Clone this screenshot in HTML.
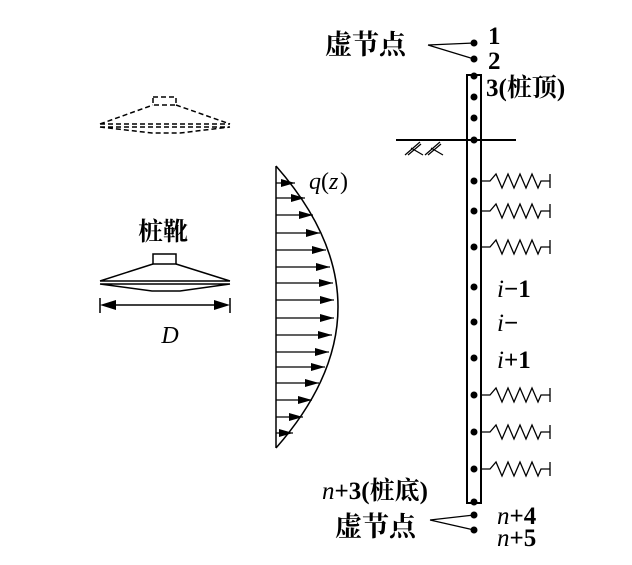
<!DOCTYPE html>
<html><head><meta charset="utf-8"><style>body{margin:0;background:#fff}svg{display:block}</style></head><body>
<svg width="632" height="565" viewBox="0 0 632 565" xmlns="http://www.w3.org/2000/svg" font-family="Liberation Serif, Noto Serif CJK SC, serif">
<defs><marker id="ah" markerWidth="14" markerHeight="8" refX="14" refY="4" orient="auto" markerUnits="userSpaceOnUse"><path d="M0,0 L14,4 L0,8 Z" fill="#000"/></marker></defs>
<g fill="none" stroke="#000" stroke-width="1.5">
<g stroke-dasharray="5,3">
<rect x="153" y="97" width="23" height="8"/>
<path d="M100,124 L153,105 M176,105 L230,124 M100,124 L230,124 M100,127 L230,127 M100,127 L152,133 L180,133 L230,127"/>
</g>
<rect x="153" y="254" width="23" height="10"/>
<path d="M100,281 L153,264 M176,264 L230,281 M100,281 L230,281 M100,284 L230,284 M100,284 L152,291 L180,291 L230,284"/>
<path d="M100,298 V313 M230,298 V313"/>
</g>
<path d="M100,305 L116,300 L116,310 Z M230,305 L214,300 L214,310 Z" fill="#000"/>
<line x1="110" y1="305" x2="220" y2="305" stroke="#000" stroke-width="1.5"/>
<text x="170" y="343" font-size="24" font-style="italic" text-anchor="middle">D</text>
<text x="163" y="240" font-size="25" font-weight="bold" text-anchor="middle">桩靴</text>
<path d="M276,166 L276,448 M276,166 Q400,307 276,448" fill="none" stroke="#000" stroke-width="1.5"/>
<g stroke="#000" stroke-width="1.2" marker-end="url(#ah)">
<line x1="276" y1="183" x2="295" y2="183"/>
<line x1="276" y1="198" x2="305" y2="198"/>
<line x1="276" y1="215" x2="313" y2="215"/>
<line x1="276" y1="233" x2="320" y2="233"/>
<line x1="276" y1="250" x2="326" y2="250"/>
<line x1="276" y1="267" x2="330" y2="267"/>
<line x1="276" y1="283" x2="333" y2="283"/>
<line x1="276" y1="300" x2="334" y2="300"/>
<line x1="276" y1="318" x2="334" y2="318"/>
<line x1="276" y1="335" x2="332" y2="335"/>
<line x1="276" y1="352" x2="329" y2="352"/>
<line x1="276" y1="367" x2="325" y2="367"/>
<line x1="276" y1="383" x2="319" y2="383"/>
<line x1="276" y1="400" x2="312" y2="400"/>
<line x1="276" y1="417" x2="303" y2="417"/>
<line x1="276" y1="433" x2="293" y2="433"/>
</g>
<text x="309" y="189" font-size="24" font-style="italic">q</text><text x="321" y="189" font-size="24">(</text><text x="329" y="189" font-size="24" font-style="italic">z</text><text x="340" y="189" font-size="24">)</text>
<rect x="467" y="75" width="14" height="428" fill="none" stroke="#000" stroke-width="2"/>
<path d="M396,140 H516" stroke="#000" stroke-width="2"/>
<path d="M405,155 L420,142 M411,148 L423,155 M425,155 L440,142 M431,148 L443,155 M408,155 L421,144 M428,155 L441,144" stroke="#000" stroke-width="1.2"/>
<g fill="#000">
<circle cx="474" cy="43" r="3.5"/><circle cx="474" cy="59" r="3.5"/>
<circle cx="474" cy="76" r="3.5"/><circle cx="474" cy="97" r="3.5"/><circle cx="474" cy="118" r="3.5"/><circle cx="474" cy="140" r="3.5"/>
<circle cx="474" cy="181" r="3.5"/><circle cx="474" cy="211" r="3.5"/><circle cx="474" cy="247" r="3.5"/><circle cx="474" cy="287" r="3.5"/>
<circle cx="474" cy="322" r="3.5"/><circle cx="474" cy="358" r="3.5"/><circle cx="474" cy="395" r="3.5"/><circle cx="474" cy="432" r="3.5"/>
<circle cx="474" cy="469" r="3.5"/><circle cx="474" cy="502" r="3.5"/><circle cx="474" cy="515" r="3.5"/><circle cx="474" cy="530" r="3.5"/>
</g>
<g fill="none" stroke="#000" stroke-width="1.3">
<path d="M428,45 L474,43 M428,45 L474,59"/>
<path d="M430,520 L474,515 M430,520 L474,530"/>
<g id="sp"><path d="M481,181 H490 L496,174 L502,188 L508,174 L514,188 L520,174 L526,188 L532,174 L538,188 L541,181 H550 M550,174 V188"/></g>
<use href="#sp" y="30"/><use href="#sp" y="66"/><use href="#sp" y="214"/><use href="#sp" y="251"/><use href="#sp" y="288"/>
</g>
<g font-size="25" font-weight="bold">
<text x="325" y="54" font-size="27">虚节点</text>
<text x="488" y="44">1</text>
<text x="488" y="69">2</text>
<text x="486" y="96">3(桩顶)</text>
<text x="497" y="297"><tspan font-style="italic" font-weight="normal">i</tspan>−1</text>
<text x="497" y="331"><tspan font-style="italic" font-weight="normal">i</tspan>−</text>
<text x="497" y="368"><tspan font-style="italic" font-weight="normal">i</tspan>+1</text>
<text x="322" y="499"><tspan font-style="italic" font-weight="normal">n</tspan>+3(桩底)</text>
<text x="335" y="536" font-size="27">虚节点</text>
<text x="497" y="524"><tspan font-style="italic" font-weight="normal">n</tspan>+4</text>
<text x="497" y="546"><tspan font-style="italic" font-weight="normal">n</tspan>+5</text>
</g>
</svg>
</body></html>
